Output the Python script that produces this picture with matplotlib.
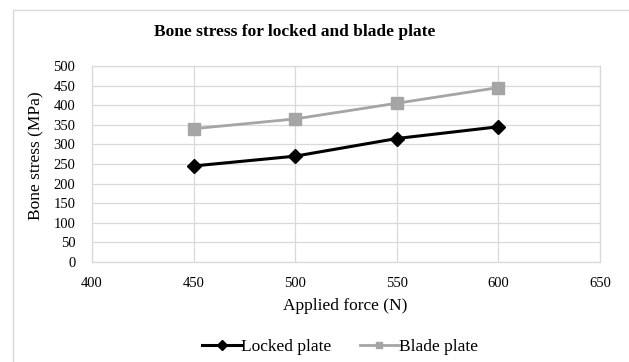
import matplotlib.pyplot as plt
from matplotlib.patches import Rectangle

force = [450, 500, 550, 600]
locked_stress = [245, 270, 315, 345]
blade_stress = [340, 365, 405, 445]
x_ticks = [400, 450, 500, 550, 600, 650]
y_ticks = list(range(0, 501, 50))

plt.rcParams['font.family'] = ['Liberation Serif', 'DejaVu Serif']

W, H = 629, 362
fig = plt.figure(figsize=(W / 100, H / 100), dpi=100)
ax = fig.add_axes([92 / W, 1 - 262 / H, (600 - 92) / W, (262 - 66) / H])

grid_col = '#d9d9d9'
ax.plot(force, locked_stress, color='black', lw=2.2, marker='D', ms=7,
        label='Locked plate', zorder=3)
ax.plot(force, blade_stress, color='#a5a5a5', lw=2.0, marker='s', ms=8.5,
        label='Blade plate', zorder=3)

ax.set_xlim(400, 650)
ax.set_ylim(0, 500)
ax.set_xticks(x_ticks)
ax.set_yticks(y_ticks)
ax.grid(True, color=grid_col, lw=0.9)
ax.tick_params(length=0, labelsize=10.5)
ax.tick_params(axis='x', pad=11)
ax.tick_params(axis='y', pad=12)
for s in ax.spines.values():
    s.set_color(grid_col)
    s.set_linewidth(0.9)

fig.text(345 / W, 1 - 306 / H, 'Applied force (N)', ha='center',
         va='center', fontsize=12.5)
fig.text(36 / W, 1 - 156 / H, 'Bone stress (MPa)', ha='center',
         va='center', rotation=90, fontsize=12.5)
fig.text(295 / W, 1 - 32 / H, 'Bone stress for locked and blade plate',
         ha='center', va='center', fontsize=12.5, fontweight='bold')

leg = fig.legend(loc='center', bbox_to_anchor=(340 / W, 1 - 347 / H), ncol=2,
                 frameon=False, fontsize=12.5, handlelength=2.3,
                 handletextpad=0.0, columnspacing=1.6, borderpad=0)
for h in leg.legend_handles:
    h.set_markersize(5)

# outer chart border (clipped at right and bottom like the source)
fig.patches.append(Rectangle((13 / W, -0.1), 1.1, 1 - 10 / H + 0.1,
                             transform=fig.transFigure, fill=False,
                             edgecolor='#d9d9d9', lw=1.0))

fig.savefig('out.png', dpi=100)
